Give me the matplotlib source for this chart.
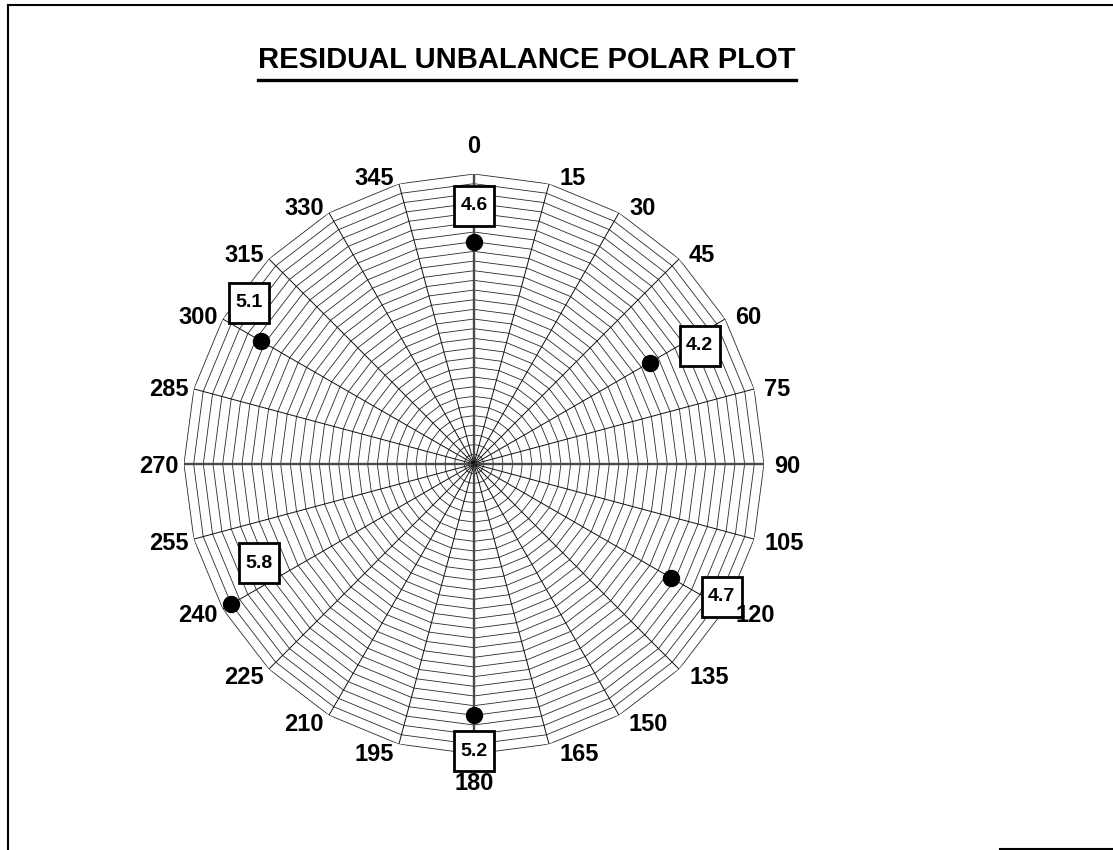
import numpy as np
import matplotlib
matplotlib.use('Agg')
from matplotlib import pyplot as plt
from matplotlib.lines import Line2D
from matplotlib.transforms import ScaledTranslation

# data
angles = [0, 60, 120, 180, 240, 300]
values = [4.6, 4.2, 4.7, 5.2, 5.8, 5.1]
labels = ['4.6', '4.2', '4.7', '5.2', '5.8', '5.1']
spoke_angles = list(range(0, 360, 15))
rmax = 6.0
rstep = 0.2

# label box offsets in pixels (style)
offsets = [(0, 36), (50, 17), (51, -19), (0, -36), (28, 41), (-12, 38)]

plt.rcParams['font.family'] = ['Liberation Sans', 'DejaVu Sans']

fig = plt.figure(figsize=(11.13, 8.5), dpi=100)
ax = fig.add_axes([0.1653, 0.1129, 0.5211, 0.6824], projection='polar')
ax.set_theta_zero_location('N')
ax.set_theta_direction(-1)
ax.set_ylim(0, rmax)
ax.grid(False)
ax.spines['polar'].set_visible(False)
ax.set_xticks([])
ax.set_yticks([])
ax.patch.set_alpha(0)

th = np.deg2rad(spoke_angles + [spoke_angles[0]])

# polygon rings
for r in np.arange(rstep, rmax + 0.001, rstep):
    ax.plot(th, [r] * len(th), color='#2a2a2a', lw=0.6, zorder=1)

# spokes
for a in spoke_angles:
    if a % 90 == 0:
        ax.plot([np.deg2rad(a)] * 2, [0, rmax], color='#4a4a4a', lw=1.7, zorder=2)
    else:
        ax.plot([np.deg2rad(a)] * 2, [0, rmax], color='#111111', lw=0.7, zorder=2)

# category labels beside each outer vertex, excel style
for a in spoke_angles:
    dy = 8 * np.cos(np.deg2rad(a)) - 2.5
    if a == 0:
        off, ha, va = (0, 16), 'center', 'bottom'
    elif a == 180:
        off, ha, va = (0, -18), 'center', 'top'
    elif a < 180:
        off, ha, va = (10, dy), 'left', 'center'
    else:
        off, ha, va = (-5, dy), 'right', 'center'
    ax.annotate(str(a), xy=(np.deg2rad(a), rmax), xytext=off,
                textcoords='offset pixels', ha=ha, va=va, zorder=8,
                fontsize=17, fontweight='bold', annotation_clip=False)

# points
ax.plot(np.deg2rad(angles), values, 'o', color='black', markersize=11.5,
        linestyle='none', zorder=5)

# boxed value labels
for a, v, lab, off in zip(angles, values, labels, offsets):
    shift = ScaledTranslation(off[0] / 100, off[1] / 100, fig.dpi_scale_trans)
    ax.plot([np.deg2rad(a)], [v], 's', markersize=28.5, mfc='white', mec='black',
            mew=2, transform=ax.transData + shift, zorder=6, clip_on=False)
    ax.annotate(lab, xy=(np.deg2rad(a), v), xytext=off, textcoords='offset pixels',
                ha='center', va='center', fontsize=14, fontweight='bold', zorder=7)

# title with underline
t = fig.text(0.4735, 0.929, 'RESIDUAL UNBALANCE POLAR PLOT', ha='center', va='center',
             fontsize=21, fontweight='bold')
fig.canvas.draw()
bb = t.get_window_extent().transformed(fig.transFigure.inverted())
fig.add_artist(Line2D([bb.x0, bb.x1], [1 - 80 / 850] * 2, color='black', lw=2.4))

# page frame
fig.add_artist(Line2D([8 / 1113, 8 / 1113], [0, 1 - 5 / 850], color='black', lw=1.5))
fig.add_artist(Line2D([8 / 1113, 1], [1 - 5 / 850] * 2, color='black', lw=1.5))
fig.add_artist(Line2D([1 - 113 / 1113, 1], [1 / 850] * 2, color='black', lw=1.5))

fig.savefig('out.png', dpi=100)
